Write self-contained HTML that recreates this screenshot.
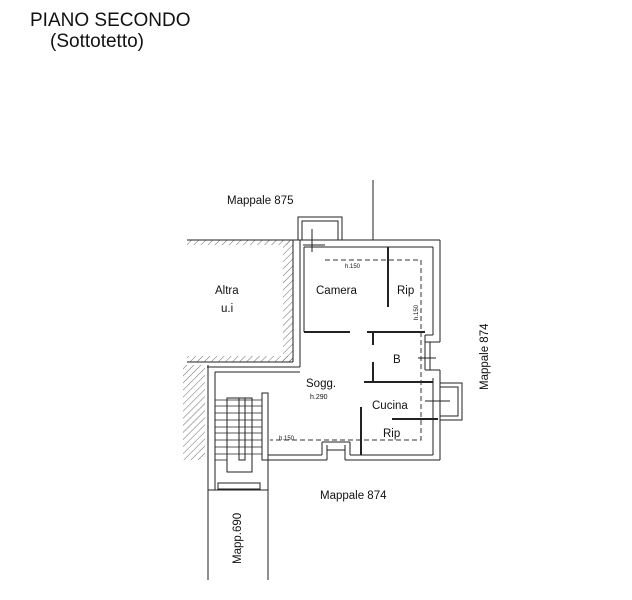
<!DOCTYPE html>
<html><head><meta charset="utf-8"><style>
html,body{margin:0;padding:0;background:#fff;width:632px;height:600px;overflow:hidden}
svg{display:block}
text{font-family:"Liberation Sans",Arial,sans-serif;fill:#111}
</style></head><body>
<svg width="632" height="600" viewBox="0 0 632 600" xmlns="http://www.w3.org/2000/svg">
<defs>
<pattern id="h" width="5" height="5" patternUnits="userSpaceOnUse" patternTransform="rotate(45)">
<line x1="0" y1="0" x2="0" y2="5" stroke="#444" stroke-width="0.8"/>
</pattern>
</defs>
<text x="30" y="26" font-size="19">PIANO SECONDO</text>
<text x="50" y="47" font-size="19">(Sottotetto)</text>
<text x="227" y="204" font-size="11.5">Mappale 875</text>
<text x="320" y="499" font-size="11.5">Mappale 874</text>
<text transform="translate(488,390) rotate(-90)" font-size="11.5">Mappale 874</text>
<text transform="translate(241,564) rotate(-90)" font-size="11.5">Mapp.690</text>

<g fill="none" stroke="#222" stroke-width="1">
<rect x="187" y="240" width="106" height="5" fill="url(#h)" stroke="none"/>
<rect x="283" y="240" width="10" height="122" fill="url(#h)" stroke="none"/>
<rect x="187" y="356" width="106" height="6" fill="url(#h)" stroke="none"/>
<rect x="183" y="365" width="22" height="95" fill="url(#h)" stroke="none"/>
<line x1="187" y1="240" x2="300" y2="240"/>
<line x1="187" y1="362" x2="293" y2="362"/>
<line x1="293" y1="240" x2="293" y2="362"/>
<line x1="300" y1="240" x2="300" y2="367"/>
<line x1="207" y1="367" x2="300" y2="367"/>
<line x1="215" y1="372" x2="300" y2="372"/>
<rect x="298" y="217" width="44" height="23"/>
<rect x="302" y="221" width="36" height="19"/>
<line x1="373" y1="180" x2="373" y2="240"/>
<line x1="312" y1="229" x2="312" y2="252"/>
<line x1="303" y1="245" x2="325" y2="245"/>
<line x1="300" y1="240" x2="440" y2="240"/>
<line x1="304" y1="247" x2="433" y2="247"/>
<line x1="304" y1="247" x2="304" y2="332"/>
<line x1="440" y1="240" x2="440" y2="342"/>
<line x1="433" y1="247" x2="433" y2="335"/>
<line x1="425" y1="335" x2="433" y2="335"/>
<line x1="425" y1="342" x2="440" y2="342"/>
<line x1="425" y1="335" x2="425" y2="370"/>
<line x1="430" y1="342" x2="430" y2="370"/>
<line x1="418" y1="358" x2="436" y2="358"/>
<line x1="425" y1="370" x2="440" y2="370"/>
<line x1="440" y1="370" x2="440" y2="460"/>
<line x1="433" y1="378" x2="433" y2="455"/>
<rect x="440" y="383" width="22" height="37"/>
<rect x="440" y="387" width="18" height="29"/>
<line x1="425" y1="401" x2="450" y2="401"/>
<line x1="388" y1="247" x2="388" y2="307" stroke-width="2"/>
<line x1="304" y1="332" x2="350" y2="332" stroke-width="2"/>
<line x1="367" y1="332" x2="425" y2="332" stroke-width="2"/>
<line x1="373" y1="332" x2="373" y2="345" stroke-width="2"/>
<line x1="373" y1="362" x2="373" y2="382" stroke-width="2"/>
<line x1="364" y1="382" x2="433" y2="382" stroke-width="2"/>
<line x1="361" y1="407" x2="361" y2="455" stroke-width="2"/>
<line x1="392" y1="419" x2="438" y2="419" stroke-width="2"/>
<line x1="268" y1="455" x2="322" y2="455"/>
<line x1="268" y1="460" x2="327" y2="460"/>
<line x1="322" y1="442" x2="322" y2="455"/>
<line x1="327" y1="445" x2="327" y2="460"/>
<line x1="322" y1="442" x2="350" y2="442"/>
<line x1="345" y1="445" x2="345" y2="460"/>
<line x1="350" y1="442" x2="350" y2="455"/>
<line x1="327" y1="450" x2="345" y2="450"/>
<line x1="350" y1="455" x2="433" y2="455"/>
<line x1="345" y1="460" x2="440" y2="460"/>
<line x1="208" y1="365" x2="208" y2="580"/>
<line x1="215" y1="372" x2="215" y2="490"/>
<line x1="268" y1="460" x2="268" y2="580"/>
<line x1="208" y1="490" x2="268" y2="490"/>
<rect x="218" y="483" width="42" height="6"/>
<rect x="262" y="393" width="6" height="67"/>
<rect x="227" y="398" width="25" height="74"/>
<rect x="239" y="398" width="6" height="62"/>
<g stroke-width="0.8">
<line x1="215" y1="400" x2="262" y2="400"/><line x1="215" y1="406" x2="262" y2="406"/>
<line x1="215" y1="413" x2="262" y2="413"/><line x1="215" y1="420" x2="262" y2="420"/>
<line x1="215" y1="427" x2="262" y2="427"/><line x1="215" y1="433" x2="262" y2="433"/>
<line x1="215" y1="440" x2="262" y2="440"/><line x1="215" y1="447" x2="262" y2="447"/>
<line x1="215" y1="454" x2="262" y2="454"/><line x1="215" y1="460" x2="227" y2="460"/>
</g>
</g>
<g fill="none" stroke="#333" stroke-width="1" stroke-dasharray="5,3">
<polyline points="325,260 421,260 421,440 270,440"/>
</g>
<text x="316" y="294" font-size="11.5">Camera</text>
<text x="397" y="294" font-size="11.5">Rip</text>
<text x="215" y="294" font-size="11.5">Altra</text>
<text x="221" y="312" font-size="11.5">u.i</text>
<text x="393" y="363" font-size="11.5">B</text>
<text x="306" y="387" font-size="11.5">Sogg.</text>
<text x="310" y="399" font-size="7">h.290</text>
<text x="372" y="409" font-size="11.5">Cucina</text>
<text x="383" y="437" font-size="11.5">Rip</text>
<text x="345" y="268" font-size="6">h.150</text>
<text x="279" y="440" font-size="6">h.150</text>
<text transform="translate(418,320) rotate(-90)" font-size="6">h.150</text>
</svg>
</body></html>
